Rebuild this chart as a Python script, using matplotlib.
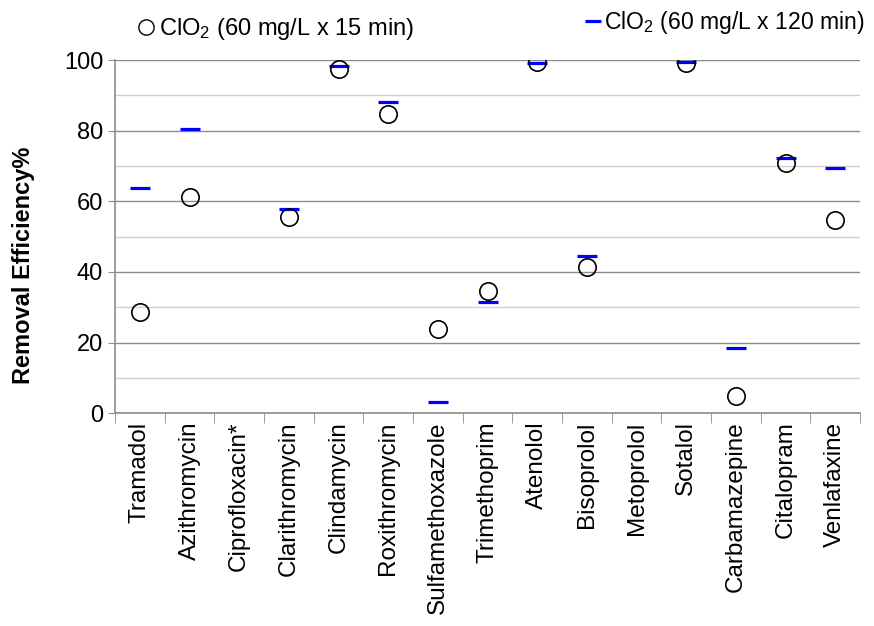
import numpy as np
import matplotlib.pyplot as plt
from matplotlib.lines import Line2D

plt.rcParams['font.family'] = ['Liberation Sans', 'DejaVu Sans']
plt.rcParams['mathtext.default'] = 'regular'

compounds = ['Tramadol', 'Azithromycin', 'Ciprofloxacin*', 'Clarithromycin',
             'Clindamycin', 'Roxithromycin', 'Sulfamethoxazole', 'Trimethoprim',
             'Atenolol', 'Bisoprolol', 'Metoprolol', 'Sotalol',
             'Carbamazepine', 'Citalopram', 'Venlafaxine']
removal_15min = [28.7, 61.1, np.nan, 55.6, 97.4, 84.6, 23.7, 34.6,
                 99.4, 41.4, np.nan, 99.2, 4.8, 70.9, 54.7]
removal_120min = [63.7, 80.4, np.nan, 57.8, 98.3, 88.0, 3.2, 31.4,
                  99.2, 44.6, np.nan, 99.5, 18.5, 72.2, 69.3]

fig = plt.figure(figsize=(8.74, 6.26), dpi=100)
ax = fig.add_axes([0.1316, 0.340, 0.8524, 0.564])

x = np.arange(len(compounds))
ax.plot(x, removal_120min, linestyle='none', marker='_', markersize=14.5,
        markeredgewidth=2.3, color='#0000ff', zorder=3)
ax.plot(x, removal_15min, linestyle='none', marker='o', markersize=12.5,
        markerfacecolor='none', markeredgecolor='black', markeredgewidth=1.2,
        zorder=4)

ax.set_xlim(-0.5, len(compounds) - 0.5)
ax.set_ylim(0, 100)
ax.set_yticks(np.arange(0, 101, 20))
ax.set_yticks(np.arange(10, 100, 20), minor=True)
ax.yaxis.grid(True, which='major', color='#8c8c8c', linewidth=1.0)
ax.yaxis.grid(True, which='minor', color='#cfcfcf', linewidth=1.0)
ax.set_axisbelow(True)

ax.set_xticks(x)
ax.set_xticklabels(compounds, rotation=90, fontsize=17.5)
ax.set_xticks(np.arange(-0.5, len(compounds)), minor=True)
ax.tick_params(axis='x', which='major', length=0, pad=6)
ax.tick_params(axis='x', which='minor', length=7, color='#8c8c8c')
ax.tick_params(axis='y', which='major', length=5, color='#8c8c8c', labelsize=17)
ax.tick_params(axis='y', which='minor', length=0)

for s in ['top', 'right']:
    ax.spines[s].set_visible(False)
for s in ['left', 'bottom']:
    ax.spines[s].set_color('#8c8c8c')
    ax.spines[s].set_linewidth(1.2)

ax.set_ylabel('Removal Efficiency%', fontsize=17, fontweight='bold')
ax.yaxis.set_label_coords(-0.108, 0.42)

h1 = Line2D([], [], linestyle='none', marker='o', markersize=11,
            markerfacecolor='none', markeredgecolor='black', markeredgewidth=1.0)
h2 = Line2D([], [], linestyle='none', marker='_', markersize=12,
            markeredgewidth=2.3, color='#0000ff')
leg1 = fig.legend([h1], ['ClO$_2$ (60 mg/L x 15 min)'], loc='center left',
                  bbox_to_anchor=(0.153, 0.953), frameon=False, fontsize=17,
                  handletextpad=0.05, handlelength=1.0, borderpad=0, borderaxespad=0)
leg2 = fig.legend([h2], ['ClO$_2$ (60 mg/L x 120 min)'], loc='center left',
                  bbox_to_anchor=(0.665, 0.964), frameon=False, fontsize=16.6,
                  handletextpad=0.0, handlelength=1.0, borderpad=0, borderaxespad=0)

fig.savefig('out.png', dpi=100)
